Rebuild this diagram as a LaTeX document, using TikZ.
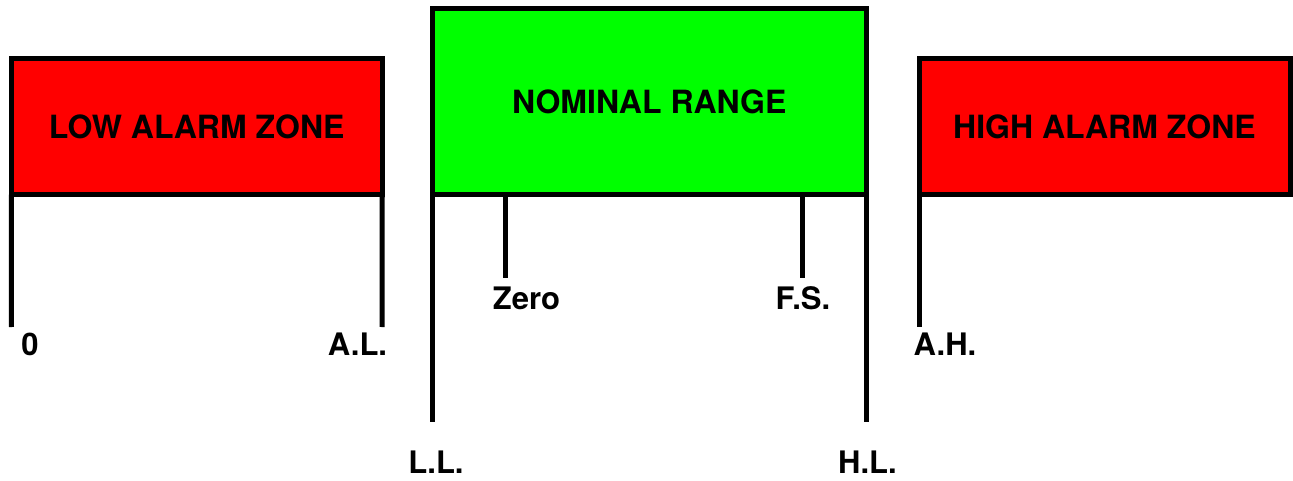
\documentclass[tikz,border=0pt]{standalone}
\usepackage{fontspec}
\setmainfont{TeX Gyre Heros}
\usepackage{xcolor}
\definecolor{alarmred}{RGB}{255,0,0}
\definecolor{okgreen}{RGB}{0,255,0}
\tikzset{
    ZR/.style ={rectangle, inner sep=0pt, outer sep=0pt, minimum width=371pt, minimum height=136pt, draw=black, line width=5pt, fill=alarmred, font=\fontsize{32}{38}\selectfont\bfseries},
    ZG/.style ={rectangle, inner sep=0pt, outer sep=0pt, minimum width=433.5pt, minimum height=186pt, draw=black, line width=5pt, fill=okgreen, font=\fontsize{32}{38}\selectfont\bfseries},
    LB/.style ={inner sep=0pt, font=\fontsize{31}{37}\selectfont\bfseries},
    post/.style ={draw=black, line width=5pt}
}

\begin{document}
\begin{tikzpicture}[x=1pt,y=-1pt]
        \useasboundingbox (0,0) rectangle (1293,481);
        % zones
        \node[ZR] (low) at (196.75,126.5) {LOW ALARM ZONE};
        \node[ZG] (nom) at (649.25,101.5) {NOMINAL RANGE};
        \node[ZR] (high) at (1104.5,126.5) {HIGH ALARM ZONE};
        % line ends
        \coordinate (p0) at (11.5,327);
        \coordinate (pAL) at (382,327);
        \coordinate (pLL) at (432.5,422);
        \coordinate (pHL) at (866,422);
        \coordinate (pAH) at (919,327);
        \coordinate (zt) at (505,194.5);
        \coordinate (ft) at (802.5,194.5);
        \coordinate (zb) at (505,278);
        \coordinate (fb) at (802.5,278);
        \draw[post] (low.south west) -- (p0);
        \draw[post] (low.south east) -- (pAL);
        \draw[post] (nom.south west) -- (pLL);
        \draw[post] (nom.south east) -- (pHL);
        \draw[post] (high.south west) -- (pAH);
        \draw[post] (zt) -- (zb);
        \draw[post] (ft) -- (fb);
        % labels
        \node[LB] (l0) at (30,344) {0};
        \node[LB] (lAL) at (357.5,344) {A.L.};
        \node[LB] (lZero) at (526.5,298.5) {Zero};
        \node[LB] (lFS) at (803,298.5) {F.S.};
        \node[LB] (lLL) at (436,462.5) {L.L.};
        \node[LB] (lHL) at (867.5,462.5) {H.L.};
        \node[LB] (lAH) at (945,344) {A.H.};
    \end{tikzpicture}
\end{document}
